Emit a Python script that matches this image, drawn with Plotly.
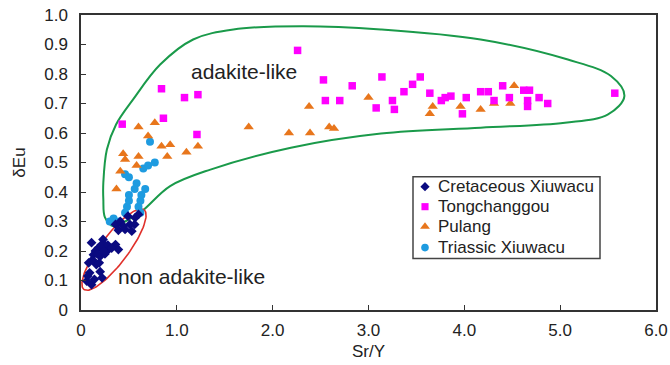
import numpy as np
import plotly.graph_objects as go

# --- sample data: Sr/Y vs δEu ---
cret_x = [0.06, 0.11, 0.14, 0.09, 0.08, 0.16, 0.20, 0.22, 0.20, 0.13, 0.11, 0.23,
          0.27, 0.36, 0.39, 0.30, 0.25, 0.18, 0.15, 0.12, 0.17, 0.21, 0.25, 0.28,
          0.32, 0.07, 0.19, 0.24,
          0.36, 0.39, 0.41, 0.46, 0.49, 0.51, 0.53, 0.565, 0.60, 0.44, 0.56]
cret_y = [0.098, 0.086, 0.104, 0.126, 0.16, 0.154, 0.13, 0.109, 0.182, 0.187, 0.228, 0.239,
          0.20, 0.222, 0.205, 0.21, 0.22, 0.21, 0.20, 0.17, 0.19, 0.22, 0.19, 0.22,
          0.21, 0.115, 0.16, 0.20,
          0.29, 0.27, 0.30, 0.273, 0.318, 0.29, 0.267, 0.313, 0.324, 0.285, 0.29]

tong_x = [0.43, 0.84, 0.86, 1.08, 1.21, 1.22, 2.26, 2.53, 2.55, 2.70, 2.83, 3.08,
          3.14, 3.25, 3.27, 3.37, 3.46, 3.54, 3.64, 3.76, 3.80, 3.86, 3.98, 4.02,
          4.17, 4.25, 4.31, 4.40, 4.47, 4.62, 4.66, 4.68, 4.66, 4.78, 4.87, 5.57]
tong_y = [0.63, 0.75, 0.65, 0.72, 0.595, 0.73, 0.88, 0.78, 0.71, 0.71, 0.76, 0.685,
          0.79, 0.71, 0.68, 0.74, 0.765, 0.79, 0.735, 0.71, 0.72, 0.725, 0.665, 0.72,
          0.74, 0.74, 0.71, 0.76, 0.72, 0.745, 0.71, 0.745, 0.69, 0.72, 0.70, 0.735]

pul_x = [0.37, 0.41, 0.44, 0.46, 0.58, 0.60, 0.60, 0.70, 0.77, 0.84, 0.90, 0.93,
         1.10, 1.22, 1.75, 2.17, 2.39, 2.38, 2.59, 2.64, 3.00, 3.64, 3.67, 3.96,
         4.17, 4.31, 4.48, 4.52]
pul_y = [0.41, 0.47, 0.53, 0.51, 0.49, 0.52, 0.62, 0.59, 0.635, 0.555, 0.52, 0.56,
         0.535, 0.555, 0.62, 0.60, 0.60, 0.69, 0.62, 0.615, 0.72, 0.665, 0.69, 0.69,
         0.68, 0.70, 0.70, 0.76]

tri_x = [0.30, 0.34, 0.40, 0.46, 0.48, 0.50, 0.50, 0.46, 0.50, 0.58, 0.60, 0.62,
         0.62, 0.63, 0.67, 0.65, 0.70, 0.77, 0.72, 0.56]
tri_y = [0.30, 0.31, 0.30, 0.33, 0.35, 0.37, 0.39, 0.46, 0.45, 0.43, 0.35, 0.33,
         0.37, 0.39, 0.41, 0.48, 0.49, 0.50, 0.57, 0.41]

series_names = ["Cretaceous Xiuwacu", "Tongchanggou", "Pulang", "Triassic Xiuwacu"]

# adakite-like field outline (closed)
field_x = [0.338, 0.25, 0.233, 0.233, 0.27, 0.366, 0.544, 0.826, 1.17, 1.59, 2.3,
           3.13, 4.17, 5.08, 5.53, 5.67, 5.50, 5.05, 4.17, 3.13, 2.19, 1.35, 0.93,
           0.635, 0.46, 0.338]
field_y = [0.284, 0.314, 0.375, 0.432, 0.544, 0.629, 0.714, 0.832, 0.917, 0.951, 0.962,
           0.951, 0.917, 0.849, 0.793, 0.725, 0.663, 0.635, 0.618, 0.598, 0.55, 0.476, 0.42,
           0.335, 0.30, 0.284]

x_ticks = [0, 1, 2, 3, 4, 5, 6]
x_labels = ["0", "1.0", "2.0", "3.0", "4.0", "5.0", "6.0"]
y_ticks = [0, 0.1, 0.2, 0.3, 0.4, 0.5, 0.6, 0.7, 0.8, 0.9, 1.0]
y_labels = ["0", "0.1", "0.2", "0.3", "0.4", "0.5", "0.6", "0.7", "0.8", "0.9", "1.0"]

W, H = 670, 365
ML, MR, MT, MB = 81, 14, 15, 54.5
pw, ph = W - ML - MR, H - MT - MB
sx, sy = pw / 6.0, ph / 1.0


def px_to_paper(px, py):
    return (px - ML) / pw, (ph - (py - MT)) / ph


# non adakite-like field: tilted ellipse built in screen space, then mapped to data units
cx_px, cy_px, a_px, b_px, ang = 114 - ML, 250 - MT, 50, 14, np.deg2rad(53)
t = np.linspace(0, 2 * np.pi, 121)
ex_px = cx_px + a_px * np.cos(t) * np.cos(ang) + b_px * np.sin(t) * np.sin(ang)
ey_px = cy_px - a_px * np.cos(t) * np.sin(ang) + b_px * np.sin(t) * np.cos(ang)
ell_x = ex_px / sx
ell_y = (ph - ey_px) / sy

FONT = "Liberation Sans, Arial, sans-serif"
TXT = "#222"

styles = {
    "Cretaceous Xiuwacu": dict(symbol="diamond", size=7.5, color="#0a0a80"),
    "Tongchanggou": dict(symbol="square", size=7.5, color="#ff00ff"),
    "Pulang": dict(symbol="triangle-up", size=9, color="#e8761c"),
    "Triassic Xiuwacu": dict(symbol="circle", size=8, color="#1e9be0"),
}
data = {
    "Cretaceous Xiuwacu": (cret_x, cret_y),
    "Tongchanggou": (tong_x, tong_y),
    "Pulang": (pul_x, pul_y),
    "Triassic Xiuwacu": (tri_x, tri_y),
}

fig = go.Figure()
fig.add_trace(go.Scatter(x=field_x, y=field_y, mode="lines",
                         line=dict(color="#1a9a4a", width=2, shape="spline", smoothing=1.0),
                         showlegend=False, hoverinfo="skip"))
fig.add_trace(go.Scatter(x=ell_x, y=ell_y, mode="lines",
                         line=dict(color="#e0302a", width=1.6),
                         showlegend=False, hoverinfo="skip"))

for name in ["Triassic Xiuwacu", "Pulang", "Tongchanggou", "Cretaceous Xiuwacu"]:
    xs, ys = data[name]
    fig.add_trace(go.Scatter(x=xs, y=ys, mode="markers", name=name,
                             marker=styles[name], showlegend=False))

# key box; its symbols sit on an overlay axis spanning the plot area in 0..1 units
lx0, ly0 = px_to_paper(413, 259)
lx1, ly1 = px_to_paper(600, 177)
fig.add_shape(type="rect", xref="paper", yref="paper", x0=lx0, y0=ly0, x1=lx1, y1=ly1,
              line=dict(color="#444", width=1.5), fillcolor="white", layer="below")
row_py = [187, 207, 227, 248]
for name, py in zip(series_names, row_py):
    mx, my = px_to_paper(425, py)
    st = dict(styles[name])
    st["size"] = st["size"] * 0.95
    fig.add_trace(go.Scatter(x=[mx], y=[my], mode="markers", xaxis="x2", yaxis="y2",
                             marker=st, showlegend=False, hoverinfo="skip"))
    tx, ty = px_to_paper(436, py)
    fig.add_annotation(x=tx, y=ty, xref="paper", yref="paper", text=name, showarrow=False,
                       xanchor="left", yanchor="middle",
                       font=dict(family=FONT, size=17, color=TXT))

ax, ay = px_to_paper(244, 72)
fig.add_annotation(x=ax, y=ay, xref="paper", yref="paper", text="adakite-like",
                   showarrow=False, xanchor="center", yanchor="middle",
                   font=dict(family=FONT, size=21, color=TXT))
nx, ny = px_to_paper(191, 277)
fig.add_annotation(x=nx, y=ny, xref="paper", yref="paper", text="non adakite-like",
                   showarrow=False, xanchor="center", yanchor="middle",
                   font=dict(family=FONT, size=21, color=TXT))

axis_common = dict(showgrid=False, zeroline=False, showline=True, linecolor="#333",
                   linewidth=1.5, mirror=True, ticks="inside", ticklen=5, tickwidth=1.3,
                   tickcolor="#333", tickfont=dict(family=FONT, size=17, color=TXT))

fig.update_layout(
    width=W, height=H,
    margin=dict(l=ML, r=MR, t=MT, b=MB, autoexpand=False),
    paper_bgcolor="white", plot_bgcolor="white",
    font=dict(family=FONT, size=15, color=TXT),
    xaxis=dict(range=[0, 6], tickvals=x_ticks, ticktext=x_labels, ticklabelstandoff=4,
               automargin=False,
               title=dict(text="Sr/Y", font=dict(family=FONT, size=17, color=TXT), standoff=6),
               **axis_common),
    yaxis=dict(range=[0, 1.0], tickvals=y_ticks, ticktext=y_labels, ticklabelstandoff=8,
               automargin=False,
               title=dict(text="δEu", font=dict(family=FONT, size=17, color=TXT), standoff=14),
               **axis_common),
    xaxis2=dict(range=[0, 1], overlaying="x", visible=False, fixedrange=True),
    yaxis2=dict(range=[0, 1], overlaying="y", visible=False, fixedrange=True),
    showlegend=False,
)

fig.write_html("out.html")
